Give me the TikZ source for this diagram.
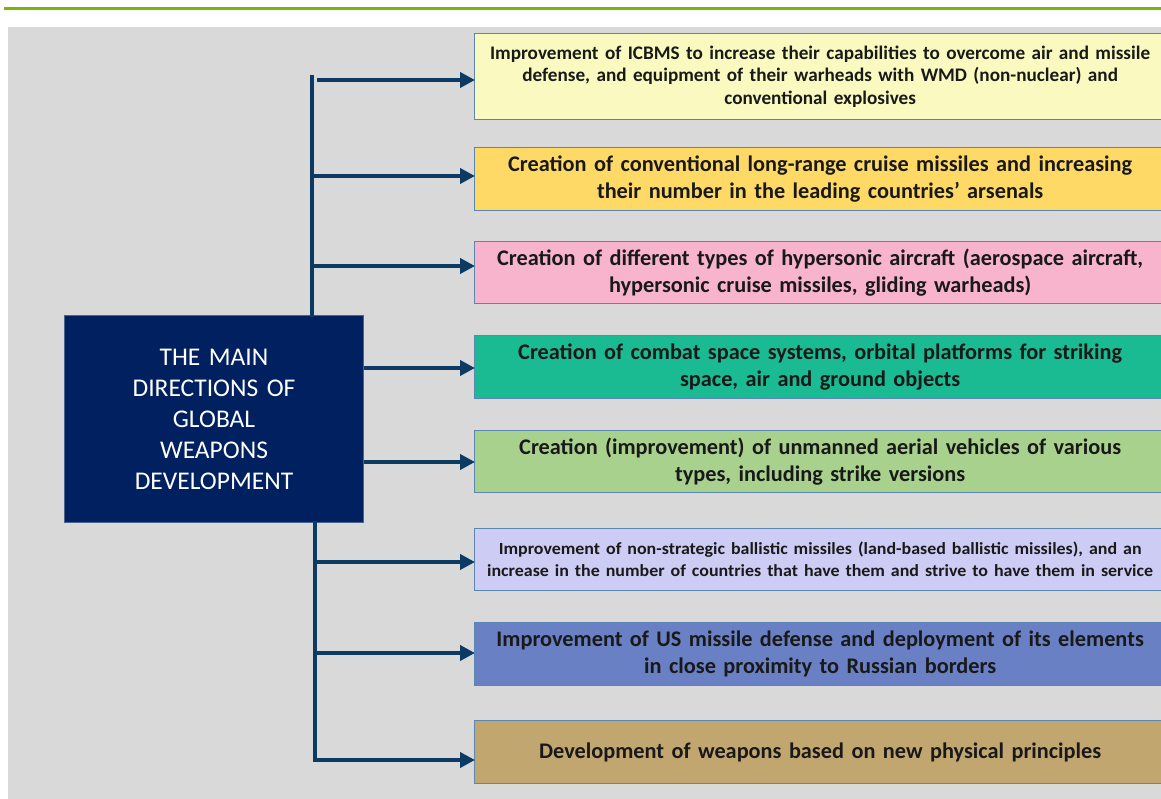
\documentclass[tikz,border=0pt]{standalone}
\usepackage{fontspec}
\setmainfont{Carlito}
\usetikzlibrary{arrows.meta}
\definecolor{greenline}{HTML}{7AB800}
\definecolor{bggray}{HTML}{D9D9D9}
\definecolor{navy}{HTML}{002060}
\definecolor{arrowc}{HTML}{0B3A62}
\definecolor{bord}{HTML}{5A86B0}
\definecolor{cA}{HTML}{FAFAC0}
\definecolor{cB}{HTML}{FFD966}
\definecolor{cC}{HTML}{F8B4CC}
\definecolor{cD}{HTML}{1ABB93}
\definecolor{cE}{HTML}{A9D18E}
\definecolor{cF}{HTML}{CCCCF5}
\definecolor{cG}{HTML}{6A80C4}
\definecolor{cH}{HTML}{C2A670}
\tikzset{
  dirbox/.style={draw=bord, line width=1.3pt, anchor=north west, minimum width=691pt,
    text width=685pt, align=center, inner sep=0pt, text=black!90,
    font=\bfseries\fontsize{22.3}{27}\selectfont},
  mainbox/.style={draw=navy!70!white, fill=navy, line width=1pt, anchor=north west,
    minimum width=299pt, minimum height=207pt, text width=290pt, align=center,
    inner sep=0pt, text=white, font=\fontsize{25.5}{31}\selectfont},
  trunk/.style={draw=arrowc, line width=4pt, line cap=rect},
  arr/.style={draw=arrowc, line width=4pt, -{Triangle[length=15pt,width=15pt]}, shorten >=-1pt}
}
\begin{document}
\begin{tikzpicture}[x=1pt,y=-1pt]
\useasboundingbox (0,0) rectangle (1161,799);
\fill[white] (0,0) rectangle (1161,799);
\fill[greenline] (4,7) rectangle (1161,10.5);
\fill[bggray] (8,27) rectangle (1161,799);

\node[mainbox] (m) at (64,315) {THE MAIN\\DIRECTIONS OF\\GLOBAL\\WEAPONS\\DEVELOPMENT};

\node[dirbox, fill=cA, minimum height=86pt, font=\bfseries\fontsize{19.2}{22.5}\selectfont] (b1) at (474,33)
  {Improvement of ICBMS to increase their capabilities to overcome air and missile\\defense, and equipment of their warheads with WMD (non-nuclear) and\\conventional explosives};
\node[dirbox, fill=cB, minimum height=63pt] (b2) at (474,147)
  {Creation of conventional long-range cruise missiles and increasing\\their number in the leading countries’ arsenals};
\node[dirbox, fill=cC, minimum height=62pt] (b3) at (474,241)
  {Creation of different types of hypersonic aircraft (aerospace aircraft,\\hypersonic cruise missiles, gliding warheads)};
\node[dirbox, fill=cD, minimum height=63pt] (b4) at (474,335)
  {Creation of combat space systems, orbital platforms for striking\\space, air and ground objects};
\node[dirbox, fill=cE, minimum height=62pt] (b5) at (474,430)
  {Creation (improvement) of unmanned aerial vehicles of various\\types, including strike versions};
\node[dirbox, fill=cF, minimum height=62pt, font=\bfseries\fontsize{17}{22}\selectfont] (b6) at (474,528)
  {\scalebox{1.055}[1]{Improvement of non-strategic ballistic missiles (land-based ballistic missiles), and an}\\\scalebox{1.055}[1]{increase in the number of countries that have them and strive to have them in service}};
\node[dirbox, fill=cG, minimum height=63pt] (b7) at (474,622)
  {Improvement of US missile defense and deployment of its elements\\in close proximity to Russian borders};
\node[dirbox, fill=cH, minimum height=63pt] (b8) at (474,720)
  {Development of weapons based on new physical principles};

\coordinate (tt) at (312,77);
\coordinate (tb) at (315,760);
\coordinate (a1) at (317,80);
\coordinate (a2) at (312,176);
\coordinate (a3) at (312,266);
\coordinate (a6) at (315,562);
\coordinate (a7) at (315,653);

\draw[trunk] (tt) -- (tt |- m.north);
\draw[trunk] (tb |- m.south) -- (tb);
\draw[arr] (a1) -- (a1 -| b1.west);
\draw[arr] (a2) -- (a2 -| b2.west);
\draw[arr] (a3) -- (a3 -| b3.west);
\draw[arr] (m.east |- 0,368) -- (b4.west |- 0,368);
\draw[arr] (m.east |- 0,462) -- (b5.west |- 0,462);
\draw[arr] (a6) -- (a6 -| b6.west);
\draw[arr] (a7) -- (a7 -| b7.west);
\draw[arr] (tb) -- (tb -| b8.west);
\end{tikzpicture}
\end{document}
